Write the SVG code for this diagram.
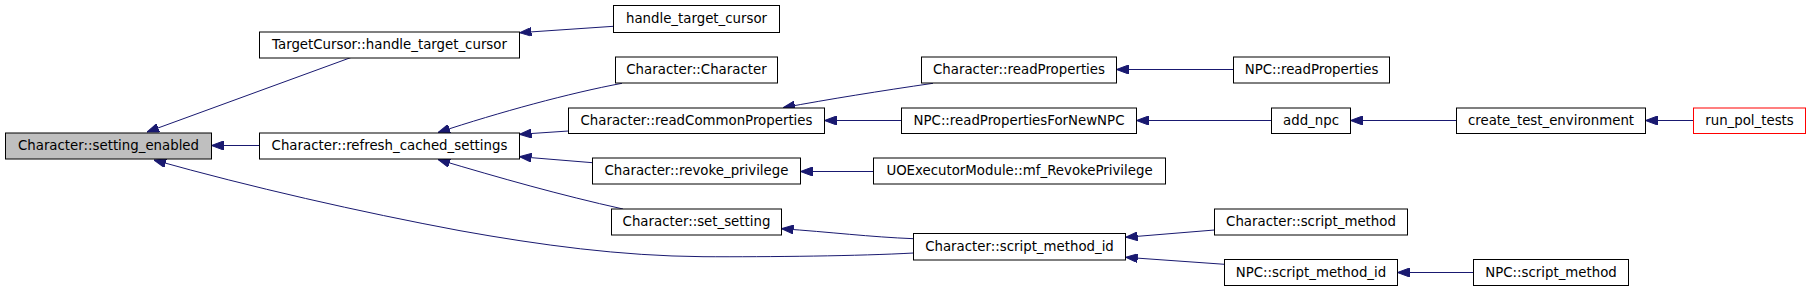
<svg xmlns="http://www.w3.org/2000/svg" width="1811" height="291" viewBox="0 0 1811 291">
<style>
.n rect{fill:#ffffff;stroke:#000000;stroke-width:1}
.n text{font-family:"DejaVu Sans",sans-serif;font-size:13.33px;fill:#000000;text-anchor:middle}
#edges path{fill:none;stroke:#191970;stroke-width:1;marker-end:url(#arr)}
</style>
<defs>
<marker id="arr" viewBox="0 0 12 9" markerWidth="12" markerHeight="9" refX="12" refY="4.5" orient="auto" markerUnits="userSpaceOnUse">
<path d="M0,0 L12,4.5 L0,9 z" fill="#191970" stroke="#191970" stroke-width="1"/>
</marker>
</defs>
<rect width="1811" height="291" fill="#ffffff"/>
<g id="edges">
<path d="M351,57.5 L147,132"/>
<path d="M259.5,145.5 L211.5,145.5"/>
<path d="M913.5,253 C 860,256 770,257 703,256.7 C 620,256 540,245 460,230.7 C 360,212 250,187 154,160"/>
<path d="M613.5,26.3 L519.5,32.7"/>
<path d="M622,83.3 C 570,93 500,112 438,132.5"/>
<path d="M623,209 C 560,195 500,178 438,159.5"/>
<path d="M568.5,131 L519.5,134.3"/>
<path d="M592.5,162.7 L519.5,156.7"/>
<path d="M933,83.3 C 880,91 830,99 783,107.7"/>
<path d="M901.5,120.5 L824.5,120.5"/>
<path d="M873.5,171.5 L800.5,171.5"/>
<path d="M913.5,238.7 C 870,237 830,232 781.5,228.7"/>
<path d="M1233.5,69.5 L1116.5,69.5"/>
<path d="M1271.5,120.5 L1136.5,120.5"/>
<path d="M1456.5,120.5 L1350.5,120.5"/>
<path d="M1693.5,120.5 L1645.5,120.5"/>
<path d="M1214.5,230 L1125.7,237.3"/>
<path d="M1224.5,264.3 L1125.7,257.3"/>
<path d="M1473.5,272.5 L1397.5,272.5"/>
</g>
<g id="n_setting_enabled" class="n"><rect x="5.5" y="133" width="206" height="26" style="fill:#bfbfbf"/><text x="108.5" y="150">Character::setting_enabled</text></g>
<g id="n_targetcursor" class="n"><rect x="259.5" y="32" width="260" height="26"/><text x="389.5" y="49">TargetCursor::handle_target_cursor</text></g>
<g id="n_refresh" class="n"><rect x="259.5" y="133" width="260" height="26"/><text x="389.5" y="150">Character::refresh_cached_settings</text></g>
<g id="n_handle_target_cursor" class="n"><rect x="613.5" y="5.5" width="166" height="27"/><text x="696.5" y="22.7">handle_target_cursor</text></g>
<g id="n_character_ctor" class="n"><rect x="615.5" y="57" width="162" height="26"/><text x="696.5" y="74">Character::Character</text></g>
<g id="n_readcommon" class="n"><rect x="568.5" y="108" width="256" height="25.5"/><text x="696.5" y="125">Character::readCommonProperties</text></g>
<g id="n_revoke" class="n"><rect x="592.5" y="158" width="208" height="26"/><text x="696.5" y="175">Character::revoke_privilege</text></g>
<g id="n_set_setting" class="n"><rect x="611.5" y="209" width="170" height="26"/><text x="696.5" y="226">Character::set_setting</text></g>
<g id="n_readprops" class="n"><rect x="921.5" y="57" width="195" height="26"/><text x="1019" y="74">Character::readProperties</text></g>
<g id="n_readnewnpc" class="n"><rect x="901.5" y="108" width="235" height="25.5"/><text x="1019" y="125">NPC::readPropertiesForNewNPC</text></g>
<g id="n_uoexec" class="n"><rect x="873.5" y="158" width="292" height="26"/><text x="1019.5" y="175">UOExecutorModule::mf_RevokePrivilege</text></g>
<g id="n_script_method_id" class="n"><rect x="913.5" y="233.5" width="212" height="26.5"/><text x="1019.5" y="250.7">Character::script_method_id</text></g>
<g id="n_npc_readprops" class="n"><rect x="1233.5" y="57" width="156" height="26"/><text x="1311.5" y="74">NPC::readProperties</text></g>
<g id="n_add_npc" class="n"><rect x="1271.5" y="108" width="79" height="25.5"/><text x="1311" y="125">add_npc</text></g>
<g id="n_create_test_env" class="n"><rect x="1456.5" y="108" width="189" height="25.5"/><text x="1551" y="125">create_test_environment</text></g>
<g id="n_run_pol_tests" class="n"><rect x="1693.5" y="108" width="112" height="25.5" style="stroke:#ff0000"/><text x="1749.5" y="125">run_pol_tests</text></g>
<g id="n_char_script_method" class="n"><rect x="1214.5" y="209" width="193" height="26"/><text x="1311" y="226">Character::script_method</text></g>
<g id="n_npc_script_method_id" class="n"><rect x="1224.5" y="259.5" width="173" height="26"/><text x="1311" y="276.5">NPC::script_method_id</text></g>
<g id="n_npc_script_method" class="n"><rect x="1473.5" y="259.5" width="155" height="26"/><text x="1551" y="276.5">NPC::script_method</text></g>
</svg>
